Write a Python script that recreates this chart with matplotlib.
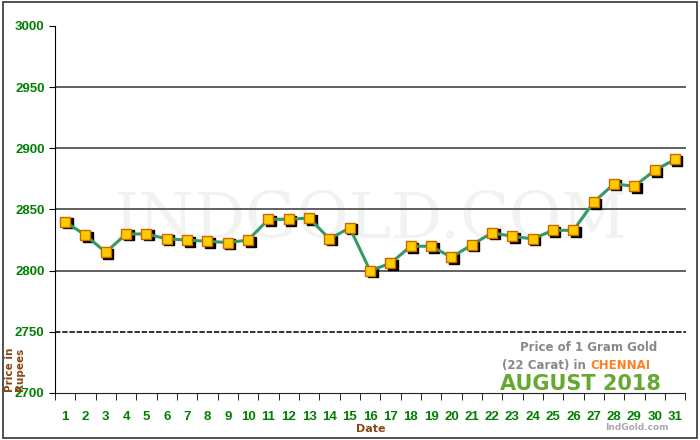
import matplotlib
matplotlib.use("Agg")
import matplotlib.pyplot as plt
from matplotlib.patches import Rectangle
import numpy as np

days = list(range(1, 32))
prices = [2840, 2829, 2815, 2830, 2830, 2826, 2825, 2824, 2823, 2825, 2842, 2842,
          2843, 2826, 2835, 2800, 2806, 2820, 2820, 2811, 2821, 2831, 2828, 2826,
          2833, 2833, 2856, 2871, 2869, 2882, 2891]
yticks = [2700, 2750, 2800, 2850, 2900, 2950, 3000]

fig = plt.figure(figsize=(7, 4.4), dpi=100)
ax = fig.add_axes([55 / 700, 47 / 440, 631 / 700, 367 / 440])
fig.patches.append(Rectangle((0.004, 0.004), 0.992, 0.992, transform=fig.transFigure,
                             fill=False, edgecolor="#333333", linewidth=1.2))

for y in yticks[1:-1]:
    ax.axhline(y, color="#555555" if y != 2750 else "#222222", lw=1.3,
               ls="-" if y != 2750 else (0, (3, 1)), zorder=1)

ax.text(0.5, 0.47, "INDGOLD.COM", transform=ax.transAxes, ha="center", va="center",
        fontsize=46, family="DejaVu Serif", color="#f1f3f1", zorder=0)

ax.plot(np.array(days) + 0.12, np.array(prices) - 1.2, "s", color="black", ms=7, zorder=2)
ax.plot(days, prices, "-", color="#339966", lw=2.2, zorder=3)
ax.plot(days, prices, "s", color="#ffcc00", mec="#cc6600", mew=1, ms=7, zorder=4)

ax.set_xlim(0.5, 31.54)
ax.set_ylim(2700, 3000)
ax.set_yticks(yticks)
ax.set_xticks(days)
ax.set_xticks(np.arange(0.5, 32, 1), minor=True)
ax.tick_params(axis="x", which="major", length=0, pad=13, labelcolor="green", labelsize=9.5)
ax.tick_params(axis="x", which="minor", length=5, direction="out")
ax.tick_params(axis="y", length=4, labelcolor="green", labelsize=9.5)
for lab in ax.get_yticklabels() + ax.get_xticklabels():
    lab.set_fontweight("bold")
    lab.set_family("Liberation Sans")
for s in ["top", "right"]:
    ax.spines[s].set_visible(False)
ax.spines["left"].set_color("black")
ax.spines["bottom"].set_color("#222222")
ax.spines["bottom"].set_linestyle((0, (3, 1)))

ax.set_xlabel("Date", color="#8b4513", fontweight="bold", fontsize=8, labelpad=1)
fig.text(0.022, 0.16, "Price in\nRupees", rotation=90, color="#8b4513", fontweight="bold",
         fontsize=7.5, ha="center", va="center", linespacing=1.0)

ax.text(0.955, 0.115, "Price of 1 Gram Gold", transform=ax.transAxes, ha="right",
        color="#888888", fontweight="bold", fontsize=8.5)
ax.text(0.848, 0.065, "(22 Carat) in ", transform=ax.transAxes, ha="right",
        color="#888888", fontweight="bold", fontsize=8.5)
ax.text(0.848, 0.065, "CHENNAI", transform=ax.transAxes, ha="left",
        color="#ff8020", fontweight="bold", fontsize=8.5)
ax.text(0.96, 0.008, "AUGUST 2018", transform=ax.transAxes, ha="right",
        color="#66a832", fontweight="bold", fontsize=15)
fig.text(0.955, 0.022, "IndGold.com", ha="right", color="#aaaaaa", fontweight="bold", fontsize=6.5)

fig.savefig("out.png")
